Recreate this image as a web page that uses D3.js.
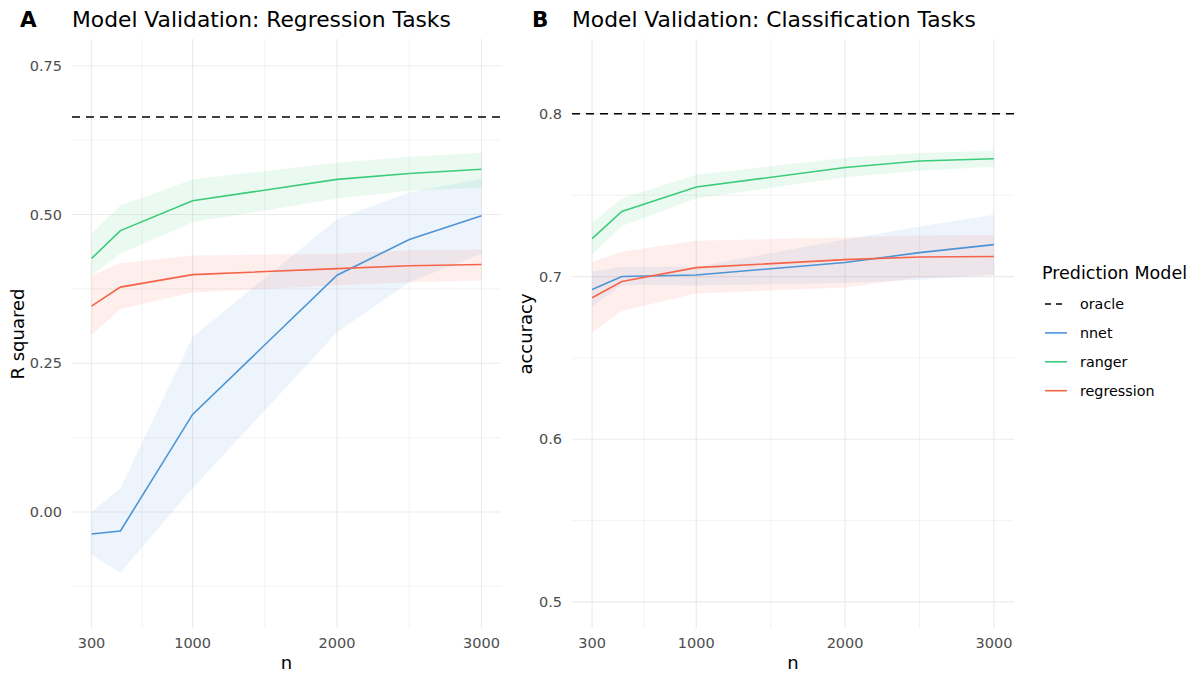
<!DOCTYPE html>
<html>
<head>
<meta charset="utf-8">
<script src="https://cdn.jsdelivr.net/npm/d3@7"></script>
<style>
  body { margin: 0; background: #fff; }
  text { font-family: "DejaVu Sans", sans-serif; }
</style>
</head>
<body>
<div id="chart"></div>
<script>
// sample sizes
const nValues = [300, 500, 1000, 2000, 2500, 3000];
const xTicks = [300, 1000, 2000, 3000];
const xMinor = [650, 1500, 2500];

// regression tasks (R squared)
const regOracle = 0.664;
const regNnet = [-0.037, -0.032, 0.164, 0.398, 0.458, 0.498];
const regNnetLo = [-0.072, -0.102, 0.040, 0.302, 0.386, 0.434];
const regNnetHi = [0.000, 0.040, 0.294, 0.492, 0.537, 0.560];
const regRanger = [0.426, 0.473, 0.523, 0.559, 0.569, 0.576];
const regRangerLo = [0.398, 0.434, 0.487, 0.527, 0.540, 0.545];
const regRangerHi = [0.468, 0.515, 0.559, 0.587, 0.597, 0.604];
const regRegression = [0.346, 0.378, 0.399, 0.409, 0.414, 0.416];
const regRegressionLo = [0.297, 0.341, 0.369, 0.381, 0.386, 0.389];
const regRegressionHi = [0.398, 0.418, 0.431, 0.434, 0.440, 0.441];
const regYTicks = [0, 0.25, 0.5, 0.75];
const regYMinor = [-0.125, 0.125, 0.375, 0.625];

// classification tasks (accuracy)
const clsOracle = 0.8;
const clsNnet = [0.692, 0.700, 0.701, 0.7086, 0.7147, 0.7196];
const clsNnetLo = [0.6816, 0.695, 0.6945, 0.696, 0.698, 0.701];
const clsNnetHi = [0.703, 0.706, 0.706, 0.7227, 0.7307, 0.738];
const clsRanger = [0.7233, 0.740, 0.755, 0.767, 0.771, 0.7724];
const clsRangerLo = [0.7135, 0.731, 0.748, 0.761, 0.765, 0.7675];
const clsRangerHi = [0.733, 0.748, 0.7626, 0.773, 0.776, 0.7773];
const clsRegression = [0.687, 0.697, 0.7055, 0.7104, 0.712, 0.7123];
const clsRegressionLo = [0.6656, 0.679, 0.6896, 0.6933, 0.6994, 0.701];
const clsRegressionHi = [0.709, 0.7153, 0.722, 0.724, 0.7252, 0.7255];
const clsYTicks = [0.5, 0.6, 0.7, 0.8];
const clsYMinor = [0.55, 0.65, 0.75];

const models = ["nnet", "ranger", "regression"];
const colors = { nnet: "#4C94D6", ranger: "#3CCB7A", regression: "#F5644A" };

const svg = d3.select("#chart").append("svg")
  .attr("width", 1196)
  .attr("height", 682);

function series(mid, lo, hi) {
  return nValues.map((n, i) => ({ n: n, v: mid[i], lo: lo[i], hi: hi[i] }));
}

function drawPanel(opts) {
  const x = d3.scaleLinear().domain([165, 3135]).range([opts.left, opts.right]);
  const y = d3.scaleLinear().domain(opts.yDomain).range([628, 39]);

  const g = svg.append("g");

  // grid
  g.selectAll(".ymin").data(opts.yMinor).join("line")
    .attr("x1", opts.left).attr("x2", opts.right)
    .attr("y1", d => y(d)).attr("y2", d => y(d))
    .attr("stroke", "#ebebeb").attr("stroke-width", 0.6);
  g.selectAll(".xmin").data(xMinor).join("line")
    .attr("x1", d => x(d)).attr("x2", d => x(d))
    .attr("y1", 39).attr("y2", 628)
    .attr("stroke", "#ebebeb").attr("stroke-width", 0.6);
  g.selectAll(".ymaj").data(opts.yTicks).join("line")
    .attr("x1", opts.left).attr("x2", opts.right)
    .attr("y1", d => y(d)).attr("y2", d => y(d))
    .attr("stroke", "#ebebeb").attr("stroke-width", 1.2);
  g.selectAll(".xmaj").data(xTicks).join("line")
    .attr("x1", d => x(d)).attr("x2", d => x(d))
    .attr("y1", 39).attr("y2", 628)
    .attr("stroke", "#ebebeb").attr("stroke-width", 1.2);

  // ribbons
  const area = d3.area()
    .x(d => x(d.n))
    .y0(d => y(d.lo))
    .y1(d => y(d.hi));
  models.forEach(m => {
    g.append("path")
      .datum(opts.data[m])
      .attr("fill", colors[m])
      .attr("fill-opacity", 0.1)
      .attr("d", area);
  });

  // lines
  const line = d3.line().x(d => x(d.n)).y(d => y(d.v));
  models.forEach(m => {
    g.append("path")
      .datum(opts.data[m])
      .attr("fill", "none")
      .attr("stroke", colors[m])
      .attr("stroke-width", 1.6)
      .attr("d", line);
  });

  // oracle
  g.append("line")
    .attr("x1", opts.left).attr("x2", opts.right)
    .attr("y1", y(opts.oracle)).attr("y2", y(opts.oracle))
    .attr("stroke", "#000")
    .attr("stroke-width", 1.5)
    .attr("stroke-dasharray", "8,6");

  // axes labels
  g.selectAll(".ytick").data(opts.yTicks).join("text")
    .attr("x", opts.left - 10)
    .attr("y", d => y(d))
    .attr("dy", "0.35em")
    .attr("text-anchor", "end")
    .attr("font-size", 14.5)
    .attr("fill", "#4d4d4d")
    .text(opts.yFormat);
  g.selectAll(".xtick").data(xTicks).join("text")
    .attr("x", d => x(d))
    .attr("y", 648)
    .attr("text-anchor", "middle")
    .attr("font-size", 14.5)
    .attr("fill", "#4d4d4d")
    .text(d => d);

  g.append("text")
    .attr("x", (opts.left + opts.right) / 2)
    .attr("y", 669)
    .attr("text-anchor", "middle")
    .attr("font-size", 18)
    .attr("fill", "#000")
    .text("n");
  g.append("text")
    .attr("transform", `translate(${opts.yTitleX},334) rotate(-90)`)
    .attr("text-anchor", "middle")
    .attr("font-size", 18)
    .attr("fill", "#000")
    .text(opts.yTitle);

  // titles
  g.append("text")
    .attr("x", opts.tagX).attr("y", 27)
    .attr("font-size", 21.5).attr("font-weight", "bold")
    .text(opts.tag);
  g.append("text")
    .attr("x", opts.left).attr("y", 27)
    .attr("font-size", 21.8)
    .text(opts.title);
}

drawPanel({
  left: 72, right: 501,
  yDomain: [-0.195, 0.795],
  yTicks: regYTicks, yMinor: regYMinor,
  yFormat: d => d3.format(".2f")(d),
  oracle: regOracle,
  yTitle: "R squared", yTitleX: 24,
  tag: "A", tagX: 20,
  title: "Model Validation: Regression Tasks",
  data: {
    nnet: series(regNnet, regNnetLo, regNnetHi),
    ranger: series(regRanger, regRangerLo, regRangerHi),
    regression: series(regRegression, regRegressionLo, regRegressionHi)
  }
});

drawPanel({
  left: 572, right: 1014,
  yDomain: [0.484, 0.846],
  yTicks: clsYTicks, yMinor: clsYMinor,
  yFormat: d => d3.format(".1f")(d),
  oracle: clsOracle,
  yTitle: "accuracy", yTitleX: 532,
  tag: "B", tagX: 532,
  title: "Model Validation: Classification Tasks",
  data: {
    nnet: series(clsNnet, clsNnetLo, clsNnetHi),
    ranger: series(clsRanger, clsRangerLo, clsRangerHi),
    regression: series(clsRegression, clsRegressionLo, clsRegressionHi)
  }
});

// legend
const legend = svg.append("g").attr("transform", "translate(1042,0)");
legend.append("text")
  .attr("x", 0).attr("y", 279)
  .attr("font-size", 17.5)
  .text("Prediction Model");
const legendItems = ["oracle"].concat(models);
legendItems.forEach((m, i) => {
  const yy = 304 + i * 28.9;
  legend.append("line")
    .attr("x1", 3).attr("x2", 25)
    .attr("y1", yy).attr("y2", yy)
    .attr("stroke", m === "oracle" ? "#000" : colors[m])
    .attr("stroke-width", 1.6)
    .attr("stroke-dasharray", m === "oracle" ? "6,5" : null);
  legend.append("text")
    .attr("x", 38).attr("y", yy)
    .attr("dy", "0.35em")
    .attr("font-size", 14.3)
    .text(m);
});
</script>
</body>
</html>
